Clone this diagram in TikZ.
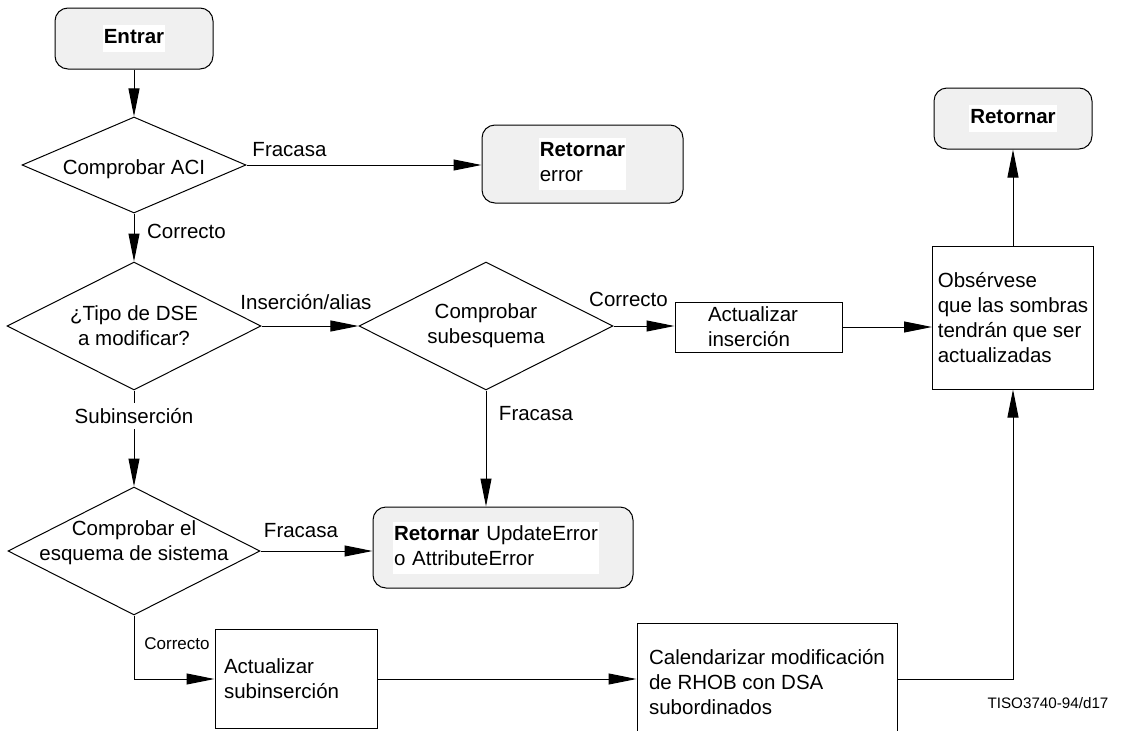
\documentclass[tikz,border=0pt]{standalone}
\usepackage{fontspec}
\setmainfont{Liberation Sans}
\usepackage{tikz}
\usetikzlibrary{shapes.geometric,arrows.meta}
\definecolor{grisclaro}{RGB}{240,240,240}
\newcommand{\fondo}[1]{{\setlength{\fboxsep}{1pt}\colorbox{white}{\begin{tabular}{@{}l@{}}#1\end{tabular}}}}

\begin{document}
\begin{tikzpicture}[x=1pt,y=-1pt,line width=1pt,
    font=\fontsize{20.5}{25}\selectfont,
    terminal/.style={draw,rounded corners=13pt,fill=grisclaro,inner sep=0pt},
    proceso/.style={draw,align=left,inner ysep=0pt},
    decision/.style={draw,diamond,inner sep=0pt,minimum width=254pt,minimum height=128pt},
    flecha/.style={-{Triangle[length=28pt,width=11pt]}}]
    \useasboundingbox (0,0) rectangle (1128,731);
    \node[terminal,minimum width=158pt,minimum height=61pt] (entrar) at (134,38.5) {\fondo{\textbf{Entrar}}};
    \node[decision,minimum width=224pt,minimum height=96pt,
      label={[align=center,yshift=-4pt]center:Comprobar ACI}] (aci) at (134,165) {};
    \node[terminal,minimum width=201pt,minimum height=78pt] (reterror) at (582.5,164) {\fondo{\textbf{Retornar}\\error}};
    \node[decision,label={[align=center]center:¿Tipo de DSE\\a modificar?}] (tipo) at (134,326) {};
    \node[decision,label={[align=center]center:Comprobar\\subesquema}] (subesq) at (486,326) {};
    \node[proceso,minimum height=50pt,text width=101pt,inner xsep=33pt] (actins) at (758.5,327) {Actualizar\\inserción};
    \node[proceso,minimum height=143pt,minimum width=161pt] (nota) at (1013,317.5) {Obsérvese\\que las sombras\\tendrán que ser\\actualizadas};
    \node[terminal,minimum width=158pt,minimum height=61pt] (retornar) at (1013,118.5) {\fondo{\textbf{Retornar}}};
    \node[decision,minimum width=252pt,
      label={[align=center,yshift=8pt]center:Comprobar el\\esquema de sistema}] (sistema) at (134,551) {};
    \node[terminal,align=left,minimum height=81pt,text width=220pt,inner xsep=20pt] (retupdate) at (503,547.5) {\fondo{\textbf{Retornar} UpdateError\\o AttributeError}};
    \node[proceso,minimum height=99pt,text width=144pt,inner xsep=9pt] (actsub) at (296,679) {Actualizar\\subinserción};
    \node[proceso,minimum height=118pt,minimum width=260pt] (calendario) at (767,682) {Calendarizar modificación\\de RHOB con DSA\\subordinados};
    \node[font=\fontsize{15.2}{18}\selectfont] (codigo) at (1048,703) {TISO3740-94/d17};

    \node (fracasa1) at (289.5,150) {Fracasa};
    \node (correcto1) at (186.5,231) {Correcto};
    \node (insercion) at (306,302) {Inserción/alias};
    \node (correcto2) at (628.5,299) {Correcto};
    \node (fracasa2) at (536,414) {Fracasa};
    \node[inner sep=5pt] (subins) at (134,416) {Subinserción};
    \node (fracasa3) at (301,531) {Fracasa};
    \node[font=\fontsize{17}{20}\selectfont] (correcto3) at (177,644) {Correcto};

    \draw[flecha] (entrar) -- (aci);
    \draw[flecha] (aci.east) -- (aci.east -| reterror.west);
    \draw[flecha] (aci) -- (tipo);
    \draw[flecha] (tipo) -- (subesq);
    \draw[flecha] (subesq.east) -- (subesq.east -| actins.west);
    \draw[flecha] (actins.east) -- (actins.east -| nota.west);
    \draw[flecha] (nota) -- (retornar);
    \draw[flecha] (subesq.south) -- (subesq.south |- retupdate.north);
    \draw (tipo.south) -- (subins.north);
    \draw[flecha] (subins.south) -- (sistema.north);
    \draw[flecha] (sistema.east) -- (sistema.east -| retupdate.west);
    \draw[flecha] (sistema.south) |- (actsub.west);
    \draw[flecha] (actsub.east) -- (actsub.east -| calendario.west);
    \draw[flecha] (calendario.east |- actsub.east) -| (nota.south);
\end{tikzpicture}
\end{document}
